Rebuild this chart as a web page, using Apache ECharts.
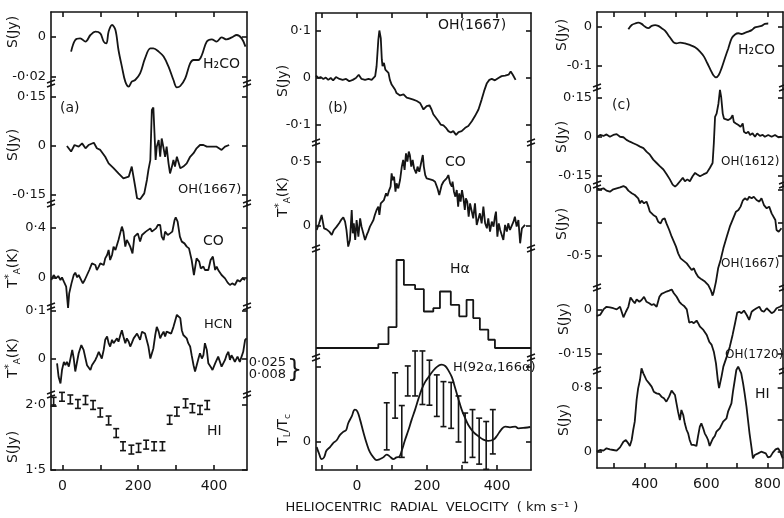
<!DOCTYPE html>
<html>
<head>
<meta charset="utf-8">
<script src="https://cdn.jsdelivr.net/npm/echarts@6/dist/echarts.min.js"></script>
<style>
  html, body { margin: 0; background: #fff; }
  #chart { width: 784px; height: 518px; }
</style>
</head>
<body>
<div id="chart"></div>
<script>
// ---- panel (a) ----
var aH2coV = [23,34,47,61,74,87,100,109,116,122,131,140,148,157,166,175,183,192,205,218,232,240,254,267,280,293,302,311,324,337,346,359,368,381,394,407,420,433,447,460,473,483];
var aH2coS = [-0.0073,-0.0015,-0.0007,-0.0023,0.001,0.0027,0.0018,-0.0023,-0.0032,0.0027,0.006,0.0035,-0.0065,-0.0148,-0.0223,-0.0248,-0.0223,-0.0215,-0.0182,-0.0107,-0.0057,-0.0057,-0.0073,-0.0098,-0.0148,-0.0215,-0.0252,-0.0245,-0.0207,-0.0132,-0.0115,-0.0115,-0.009,-0.0023,-0.0012,-0.0023,-0.0002,-0.0012,-0.0002,0.001,-0.0007,-0.0048];

var aOhV = [12,23,32,43,52,61,69,83,91,100,113,122,135,148,161,175,183,188,192,197,205,216,223,227,232,236,240,243,246,249,254,258,262,267,271,275,280,284,289,293,297,302,306,311,319,328,337,346,354,363,372,381,394,407,420,429,440];
var aOhS = [0,-0.017,0.003,-0.002,0.008,-0.007,0.003,0.01,-0.007,-0.012,-0.033,-0.053,-0.068,-0.084,-0.099,-0.094,-0.063,-0.068,-0.124,-0.16,-0.163,-0.145,-0.104,-0.073,-0.043,0.11,0.118,0.039,-0.043,-0.002,0.018,-0.033,0.023,-0.007,-0.033,-0.002,-0.053,-0.084,-0.063,-0.043,-0.063,-0.033,-0.028,-0.068,-0.063,-0.053,-0.033,-0.022,-0.007,0.003,0.003,-0.002,-0.002,-0.002,-0.012,-0.002,0.003];

var aCoV = [-29,-23,-17,-11,-5,-1,4,10,15,18,24,30,34,39,43,47,54,59,65,71,78,83,87,91,96,100,104,109,113,118,122,126,131,135,140,144,148,153,157,161,166,170,175,179,185,190,194,199,205,210,215,220,225,232,236,241,247,252,258,262,267,271,278,284,290,296,299,304,310,315,322,328,334,341,347,354,361,365,372,376,385,391,397,403,407,411,420,429,436,442,448,455,462,468,475,482];
var aCoT = [-0.016,0.024,-0.003,0.016,-0.016,0.005,-0.029,-0.069,-0.24,-0.123,-0.043,0.024,0.043,0.005,0.024,0.032,-0.043,-0.016,0.024,0.064,0.117,0.131,0.104,0.064,0.091,0.117,0.131,0.104,0.157,0.184,0.224,0.144,0.184,0.251,0.224,0.264,0.304,0.291,0.411,0.371,0.251,0.304,0.277,0.251,0.197,0.331,0.317,0.357,0.291,0.344,0.357,0.371,0.384,0.397,0.371,0.384,0.397,0.424,0.424,0.331,0.304,0.371,0.344,0.357,0.371,0.464,0.485,0.451,0.331,0.291,0.277,0.251,0.237,0.144,0.024,0.157,0.131,0.077,0.091,0.064,0.064,0.144,0.171,0.064,0.091,0.064,0.024,-0.003,-0.037,-0.056,-0.043,-0.056,-0.016,-0.029,-0.003,-0.016];

var aHcnV = [-14,-10,-5,-1,4,8,12,17,21,26,30,34,39,43,50,56,61,65,69,74,78,83,87,91,96,100,104,109,113,118,122,126,131,135,140,144,148,153,157,161,166,170,175,179,183,188,192,197,201,205,210,214,218,223,227,232,236,240,245,249,254,258,262,267,271,275,280,287,293,297,302,306,311,315,319,324,328,332,337,341,346,350,354,359,363,368,372,376,381,385,391,396,403,407,411,416,420,425,429,433,438,442,446,451,455,462,468,477,482,486];
var aHcnT = [-0.009,-0.037,-0.051,-0.023,-0.006,-0.013,-0.006,-0.016,-0.013,0.019,0.001,-0.026,-0.023,0.012,0.029,0.019,0.001,-0.013,-0.016,-0.023,-0.013,-0.016,-0.002,0.005,0.015,0.012,0.001,0.019,0.04,0.047,0.033,0.026,0.04,0.033,0.036,0.043,0.036,0.05,0.06,0.047,0.033,0.043,0.036,0.026,0.033,0.043,0.047,0.053,0.05,0.04,0.057,0.06,0.053,0.053,0.026,0.001,-0.002,0.022,0.05,0.067,0.057,0.043,0.05,0.057,0.047,0.057,0.06,0.053,0.067,0.078,0.092,0.095,0.085,0.06,0.05,0.053,0.043,0.033,0.026,0.008,-0.013,-0.026,-0.03,0.001,0.012,0.001,0.008,0.033,0.019,-0.009,-0.016,-0.023,-0.009,-0.006,0.005,0.001,-0.016,-0.013,-0.002,0.008,0.015,-0.002,0.008,0.001,-0.006,0.005,-0.006,0.015,0.04,0.043];

var aHiV = [-23,-1,21,41,61,81,100,122,142,160,182,201,221,242,264,283,302,325,343,363,382];
var aHiS = [2.025,2.063,2.043,2.008,2.038,2.0,1.942,1.881,1.784,1.683,1.657,1.67,1.695,1.683,1.683,1.886,1.949,2.013,1.975,1.962,2.0];
var aHiErr = 0.034;

// ---- panel (b) ----
var bOhV = [-117,-110,-104,-96,-89,-82,-75,-68,-60,-50,-41,-31,-22,-12,-3,5,13,23,33,42,52,56,61,64,68,71,73,77,81,85,90,94,99,104,109,113,123,133,142,152,161,171,180,190,199,207,213,218,226,233,239,247,254,261,268,275,283,290,299,309,318,328,337,347,356,363,371,378,385,394,404,413,423,433,439,445,453];
var bOhS = [0.005,0,0.002,-0.002,0.001,-0.004,0,-0.005,0.002,-0.002,-0.004,-0.002,-0.007,-0.004,0,0.007,-0.002,-0.004,-0.002,-0.004,0.004,0.025,0.081,0.101,0.085,0.039,0.025,0.032,0.018,0.021,0.011,-0.004,-0.014,-0.018,-0.025,-0.032,-0.037,-0.035,-0.042,-0.044,-0.046,-0.049,-0.053,-0.067,-0.06,-0.058,-0.067,-0.077,-0.085,-0.092,-0.099,-0.101,-0.106,-0.113,-0.116,-0.113,-0.121,-0.115,-0.113,-0.106,-0.102,-0.092,-0.081,-0.067,-0.046,-0.028,-0.011,-0.004,-0.002,-0.005,0,0.004,0.005,0.007,0.014,0.007,-0.004];

var bCoV = [-115,-108,-101,-94,-87,-79,-72,-66,-58,-51,-44,-39,-34,-30,-25,-20,-15,-12,-9,-5,-1,4,9,13,18,23,28,32,37,42,47,51,56,61,64,68,73,77,83,87,92,96,99,102,106,110,113,118,123,128,132,136,140,144,148,151,155,159,163,169,173,178,183,188,191,195,199,204,209,216,223,230,235,242,247,251,256,261,266,271,273,277,281,285,289,292,296,300,304,308,311,315,319,323,328,332,337,342,347,351,356,361,366,371,375,380,385,390,394,397,401,405,409,413,418,423,428,432,437,442,447,451,456,461,466,471,475,480];
var bCoT = [-0.031,0.021,0.086,-0.018,-0.026,-0.044,-0.07,-0.031,-0.005,0.021,0.052,0.068,0.034,-0.031,-0.161,-0.109,0.125,-0.057,0.021,-0.109,0.047,-0.083,0.06,-0.005,-0.057,-0.109,-0.07,-0.044,-0.005,0.021,0.047,0.086,0.125,0.151,0.086,0.177,0.164,0.203,0.255,0.234,0.281,0.307,0.411,0.359,0.385,0.268,0.333,0.294,0.359,0.464,0.516,0.438,0.568,0.503,0.581,0.555,0.464,0.516,0.451,0.411,0.464,0.424,0.49,0.555,0.464,0.398,0.372,0.385,0.365,0.359,0.346,0.294,0.242,0.32,0.346,0.359,0.372,0.398,0.333,0.307,0.346,0.268,0.229,0.281,0.151,0.255,0.19,0.281,0.216,0.125,0.216,0.19,0.073,0.177,0.112,0.06,0.177,0.008,-0.005,0.099,0.021,0.151,0.021,-0.018,0.06,-0.044,0.034,-0.005,0.073,0.112,-0.083,0.021,-0.031,-0.018,-0.109,0.008,-0.044,0.021,-0.031,-0.018,0.034,0.073,-0.005,0.047,-0.135,-0.018,-0.018,0.008];

var bHaEdge = [-117,61,90,113,134,166,191,218,237,268,292,313,332,351,375,394,497];
var bHaLevel = [0,0.045,0.238,1.0,0.717,0.668,0.415,0.453,0.642,0.49,0.36,0.547,0.34,0.208,0.094,0,0];

var bRecV = [-115,-108,-101,-94,-87,-77,-68,-58,-49,-39,-31,-25,-15,-6,1,9,18,28,37,47,56,66,75,85,94,104,113,121,128,137,147,156,166,175,185,194,204,213,223,232,242,252,261,271,280,290,299,309,318,332,347,361,375,390,401,411,423,437,452,461,480,495];
var bRecR = [-0.068,-0.159,-0.227,-0.205,-0.114,-0.068,-0.014,0.023,0.091,0.136,0.159,0.25,0.341,0.432,0.409,0.295,0.136,-0.023,-0.136,-0.205,-0.241,-0.227,-0.205,-0.168,-0.195,-0.227,-0.205,-0.195,-0.114,0.023,0.159,0.295,0.432,0.568,0.705,0.795,0.864,0.923,0.977,1.014,1.032,1.014,0.955,0.864,0.727,0.568,0.432,0.318,0.227,0.136,0.077,0.032,0.014,0.032,0.091,0.159,0.205,0.195,0.205,0.182,0.19,0.2];
var bErrV  = [85,109,128,145,166,187,207,228,247,269,290,309,330,349,369,388];
var bErrLo = [-0.105,0.318,-0.205,0.614,0.614,0.5,0.491,0.341,0.205,0.182,0,-0.273,-0.205,-0.295,-0.364,-0.159];
var bErrHi = [0.523,0.923,0.486,1.014,1.214,1.214,1.091,0.895,0.805,0.795,0.614,0.386,0.432,0.318,0.273,0.432];

// ---- panel (c) ----
var cH2coV = [346,357,368,378,389,400,411,422,433,443,454,465,476,487,494,503,514,530,546,563,579,592,603,614,622,631,640,649,660,671,682,693,704,714,725,736,747,758,769,779,790,801];
var cH2coS = [-0.006,0.005,0.009,0.011,0.008,0.001,-0.003,0.003,0.005,0.003,-0.003,-0.009,-0.021,-0.033,-0.04,-0.042,-0.04,-0.042,-0.046,-0.052,-0.063,-0.076,-0.093,-0.111,-0.123,-0.129,-0.123,-0.106,-0.08,-0.055,-0.029,-0.019,-0.016,-0.018,-0.015,-0.012,-0.008,-0.001,0.001,0.003,0.008,0.009];

var cOh1612V = [245,254,265,275,286,297,308,319,330,340,351,362,373,384,395,405,416,427,438,449,460,471,481,490,498,505,514,523,530,538,546,555,563,570,579,590,601,611,620,624,628,633,639,644,648,653,657,663,671,679,685,689,696,704,711,718,722,729,736,742,750,758,765,774,783,790,801,812,823,834,844];
var cOh1612S = [0.001,0.008,0.004,0.01,0.001,0.008,0.011,0.001,-0.001,-0.011,-0.018,-0.024,-0.03,-0.037,-0.043,-0.056,-0.068,-0.087,-0.1,-0.113,-0.125,-0.144,-0.163,-0.183,-0.191,-0.183,-0.17,-0.157,-0.17,-0.163,-0.17,-0.151,-0.138,-0.144,-0.151,-0.144,-0.138,-0.119,-0.1,-0.024,0.077,0.09,0.128,0.181,0.153,0.09,0.071,0.077,0.065,0.071,0.084,0.058,0.052,0.046,0.039,0.052,0.02,0.014,0.02,0.008,0.014,0.001,0.014,0.004,0.008,0.001,0.008,0.001,0.008,-0.001,0.001];

var cOh1667V = [243,254,265,275,286,297,308,319,330,338,346,357,367,378,384,389,397,405,411,416,422,427,436,443,451,457,464,470,479,487,494,501,508,516,525,536,544,552,559,566,573,584,595,606,614,620,624,631,638,646,655,666,676,687,696,704,711,718,725,733,739,747,754,763,772,779,787,796,804,812,817,824,828,835,844];
var cOh1667S = [0.013,0.005,0.013,-0.005,-0.013,0.005,0.013,0.02,0.03,0.02,-0.005,-0.025,-0.038,-0.063,-0.101,-0.081,-0.101,-0.088,-0.126,-0.164,-0.177,-0.189,-0.202,-0.24,-0.253,-0.222,-0.215,-0.253,-0.303,-0.354,-0.391,-0.429,-0.48,-0.518,-0.535,-0.556,-0.581,-0.606,-0.593,-0.631,-0.657,-0.677,-0.694,-0.72,-0.758,-0.8,-0.77,-0.694,-0.593,-0.53,-0.442,-0.354,-0.278,-0.215,-0.164,-0.152,-0.126,-0.081,-0.063,-0.076,-0.051,-0.063,-0.051,-0.076,-0.088,-0.063,-0.114,-0.139,-0.126,-0.177,-0.164,-0.227,-0.303,-0.316,-0.29];

var cOh1720V = [243,254,265,275,286,297,308,319,330,338,346,353,360,367,373,382,389,397,405,414,422,429,438,447,454,462,470,479,487,494,503,512,519,527,536,544,552,559,568,573,579,590,601,609,617,624,631,637,641,649,655,666,676,685,693,700,707,714,722,731,739,747,754,763,772,779,787,796,804,812,820,828,839,849];
var cOh1720S = [-0.02,-0.017,0.002,0.011,0.009,0.006,0.002,0.011,-0.025,-0.006,0.011,0.043,0.032,0.023,0.036,0.028,0.034,0.045,0.028,0.023,0.017,0.02,0.011,0.045,0.055,0.059,0.063,0.066,0.07,0.057,0.045,0.028,0.02,0.014,0.002,-0.043,-0.04,-0.045,-0.036,-0.045,-0.057,-0.068,-0.085,-0.108,-0.119,-0.142,-0.182,-0.239,-0.266,-0.227,-0.193,-0.159,-0.125,-0.085,-0.045,-0.009,-0.006,-0.011,-0.002,-0.017,-0.034,-0.006,0,0.006,0.011,-0.002,-0.006,0.006,-0.002,-0.011,-0.006,0.006,0.011,0.017];

var cHiV = [243,254,265,275,286,297,308,319,330,338,346,351,357,362,367,373,378,384,389,395,400,405,414,422,429,438,447,454,462,470,479,487,492,498,503,508,514,519,525,530,536,541,546,552,559,568,573,579,584,590,595,601,606,611,617,622,628,633,638,644,649,655,660,666,671,676,682,687,693,698,704,709,714,720,725,731,736,741,747,752,758,763,769,774,779,785,794,801,809,817,826,834,841,849];
var cHiS = [0.004,0.025,0.017,0.046,0.033,0.025,0.017,0.058,0.129,0.15,0.108,0.075,0.15,0.275,0.379,0.65,0.796,0.9,1.046,0.983,0.942,0.9,0.858,0.817,0.754,0.733,0.725,0.692,0.671,0.629,0.692,0.767,0.775,0.713,0.608,0.504,0.4,0.525,0.463,0.358,0.275,0.233,0.15,0.088,0.088,0.075,0.192,0.317,0.358,0.296,0.233,0.192,0.15,0.075,0.129,0.171,0.2,0.254,0.267,0.296,0.317,0.379,0.392,0.421,0.504,0.525,0.608,0.754,0.9,1.025,1.067,1.046,0.983,0.858,0.733,0.567,0.4,0.233,0.067,-0.079,-0.038,-0.058,-0.017,-0.038,0.004,0.025,-0.017,-0.067,-0.058,-0.008,0.033,0.046,0.004,-0.079];

// x tick / label values per column
var aXTicks = [0,100,200,300,400],  aXLabels = [0,200,400];
var bXTicks = [-100,0,100,200,300,400], bXLabels = [0,200,400];
var cXTicks = [300,400,500,600,700,800], cXLabels = [400,600,800];

var ink = '#151515';
var FONT = 'DejaVu Sans';
var LW = 1.8;

var cols = {
  a: { left: 51,  right: 247, min: -30,  max: 487, ticks: aXTicks, labels: aXLabels },
  b: { left: 316, right: 531, min: -117, max: 497, ticks: bXTicks, labels: bXLabels },
  c: { left: 597, right: 783, min: 244,  max: 849, ticks: cXTicks, labels: cXLabels }
};

// ref = [value1, pixelY1, value2, pixelY2]  -> gives the y scale of each strip
var panels = [
  { col: 'a', top: 12,  bottom: 84,  ref: [0, 37, -0.02, 77],  yt: [0, -0.02], yl: [0, -0.02], ytxt: ['0', '-0·02'], first: true },
  { col: 'a', top: 84,  bottom: 204, ref: [0.15, 97, 0, 146],  yt: [0.15, 0, -0.15], yl: [0.15, 0, -0.15], ytxt: ['0·15', '0', '-0·15'] },
  { col: 'a', top: 204, bottom: 307, ref: [0.4, 228, 0, 278],  yt: [0.4, 0], yl: [0.4, 0], ytxt: ['0·4', '0'] },
  { col: 'a', top: 307, bottom: 395, ref: [0.1, 311, 0, 359],  yt: [0.1, 0], yl: [0.1, 0], ytxt: ['0·1', '0'] },
  { col: 'a', top: 395, bottom: 470, ref: [2.0, 405, 1.5, 470], yt: [2.0, 1.5], yl: [2.0, 1.5], ytxt: ['2·0', '1·5'], last: true },

  { col: 'b', top: 13,  bottom: 143, ref: [0.1, 31, 0, 78],    yt: [0.1, 0, -0.1], yl: [0.1, 0, -0.1], ytxt: ['0·1', '0', '-0·1'], first: true },
  { col: 'b', top: 143, bottom: 249, ref: [0.5, 162, 0, 226],  yt: [0.5, 0], yl: [0.5, 0], ytxt: ['0·5', '0'] },
  { col: 'b', top: 249, bottom: 358, ref: [1, 260, 0, 348],    yt: [], yl: [], ytxt: [] },
  { col: 'b', top: 358, bottom: 470, ref: [1, 367, 0, 442],    yt: [1, 0], yl: [0], ytxt: ['0'], last: true },

  { col: 'c', top: 12,  bottom: 88,  ref: [0, 27, -0.1, 66],   yt: [0, -0.1], yl: [0, -0.1], ytxt: ['0', '-0·1'], first: true },
  { col: 'c', top: 88,  bottom: 185, ref: [0.15, 98, 0, 137],  yt: [0.15, 0, -0.15], yl: [0.15, 0, -0.15], ytxt: ['0·15', '0', '-0·15'] },
  { col: 'c', top: 185, bottom: 288, ref: [0, 190, -0.5, 256], yt: [0, -0.25, -0.5], yl: [0, -0.5], ytxt: ['0', '-0·5'] },
  { col: 'c', top: 288, bottom: 371, ref: [0, 310, -0.15, 354], yt: [0, -0.15], yl: [0, -0.15], ytxt: ['0', '-0·15'] },
  { col: 'c', top: 371, bottom: 468, ref: [0.8, 388, 0, 452],  yt: [0.8, 0.4, 0], yl: [0.8, 0], ytxt: ['0·8', '0'], last: true }
];

var grids = [], xAxes = [], yAxes = [];
panels.forEach(function (p, i) {
  var c = cols[p.col];
  var k = (p.ref[3] - p.ref[1]) / (p.ref[0] - p.ref[2]); // px per unit
  var ymax = p.ref[0] + (p.ref[1] - p.top) / k;
  var ymin = p.ref[0] - (p.bottom - p.ref[1]) / k;
  grids.push({ left: c.left, top: p.top, width: c.right - c.left, height: p.bottom - p.top });

  var showX = !!(p.first || p.last);
  xAxes.push({
    gridIndex: i, type: 'value', min: c.min, max: c.max, show: showX,
    position: p.first ? 'top' : 'bottom',
    axisLine: { show: true, onZero: false, lineStyle: { color: ink, width: 1.6 } },
    axisTick: { show: true, inside: true, length: 5, customValues: c.ticks, lineStyle: { color: ink, width: 1.6 } },
    axisLabel: { show: !!p.last, customValues: c.labels, margin: 9, color: ink, fontSize: 14, fontFamily: FONT },
    splitLine: { show: false }
  });

  var labelFmt = function (v) {
    for (var j = 0; j < p.yl.length; j++) if (Math.abs(p.yl[j] - v) < 1e-9) return p.ytxt[j];
    return '';
  };
  var tickStyle = { show: p.yt.length > 0, inside: true, length: 5, customValues: p.yt, lineStyle: { color: ink, width: 1.6 } };
  yAxes.push({
    gridIndex: i, type: 'value', min: ymin, max: ymax, position: 'left',
    axisLine: { show: true, onZero: false, lineStyle: { color: ink, width: 1.6 } },
    axisTick: tickStyle,
    axisLabel: { show: p.yl.length > 0, customValues: p.yl, formatter: labelFmt, margin: 5, color: ink, fontSize: 13, fontFamily: FONT },
    splitLine: { show: false }
  });
  yAxes.push({
    gridIndex: i, type: 'value', min: ymin, max: ymax, position: 'right',
    axisLine: { show: true, onZero: false, lineStyle: { color: ink, width: 1.6 } },
    axisTick: tickStyle,
    axisLabel: { show: false },
    splitLine: { show: false }
  });
});

function zip(xs, ys) {
  var d = [];
  for (var i = 0; i < Math.min(xs.length, ys.length); i++) d.push([xs[i], ys[i]]);
  return d;
}
function lineSeries(pi, xs, ys, extra) {
  var s = {
    type: 'line', xAxisIndex: pi, yAxisIndex: pi * 2, data: zip(xs, ys),
    symbol: 'none', showSymbol: false, clip: false, silent: true, animation: false,
    lineStyle: { color: ink, width: LW }
  };
  for (var key in extra) s[key] = extra[key];
  return s;
}
function errSeries(pi, xs, lo, hi, cap) {
  var d = [];
  for (var i = 0; i < xs.length; i++) d.push([xs[i], lo[i], hi[i]]);
  return {
    type: 'custom', xAxisIndex: pi, yAxisIndex: pi * 2, data: d, clip: false, silent: true, animation: false,
    encode: { x: 0, y: [1, 2] },
    renderItem: function (params, api) {
      var a = api.coord([api.value(0), api.value(1)]);
      var b = api.coord([api.value(0), api.value(2)]);
      var st = { stroke: ink, lineWidth: 1.6 };
      return { type: 'group', children: [
        { type: 'line', shape: { x1: a[0], y1: a[1], x2: b[0], y2: b[1] }, style: st },
        { type: 'line', shape: { x1: a[0] - cap, y1: a[1], x2: a[0] + cap, y2: a[1] }, style: st },
        { type: 'line', shape: { x1: b[0] - cap, y1: b[1], x2: b[0] + cap, y2: b[1] }, style: st }
      ] };
    }
  };
}

var aHiLo = aHiS.map(function (v) { return v - aHiErr; });
var aHiHi = aHiS.map(function (v) { return v + aHiErr; });

var series = [
  lineSeries(0, aH2coV, aH2coS, { smooth: 0.35 }),
  lineSeries(1, aOhV, aOhS, {}),
  lineSeries(2, aCoV, aCoT, {}),
  lineSeries(3, aHcnV, aHcnT, {}),
  errSeries(4, aHiV, aHiLo, aHiHi, 3),
  lineSeries(5, bOhV, bOhS, {}),
  lineSeries(6, bCoV, bCoT, {}),
  lineSeries(7, bHaEdge, bHaLevel, { step: 'end' }),
  lineSeries(8, bRecV, bRecR, { smooth: 0.4 }),
  errSeries(8, bErrV, bErrLo, bErrHi, 3),
  lineSeries(9, cH2coV, cH2coS, { smooth: 0.35 }),
  lineSeries(10, cOh1612V, cOh1612S, {}),
  lineSeries(11, cOh1667V, cOh1667S, {}),
  lineSeries(12, cOh1720V, cOh1720S, {}),
  lineSeries(13, cHiV, cHiS, {})
];

// ---- text ----
var rich = {
  n: { fontSize: 14, fontFamily: FONT, color: ink, lineHeight: 18 },
  sub: { fontSize: 9, fontFamily: FONT, color: ink, lineHeight: 18, verticalAlign: 'bottom', padding: [6, 0, 0, 0] },
  sup: { fontSize: 10, fontFamily: FONT, color: ink, lineHeight: 18, verticalAlign: 'top', padding: [0, 0, 5, 0] }
};
function vText(x, y, text) {
  return { type: 'text', x: x, y: y, rotation: Math.PI / 2, silent: true,
    style: { text: text, rich: rich, font: '14px ' + FONT, fill: ink,
             textAlign: 'center', textVerticalAlign: 'middle', align: 'center', verticalAlign: 'middle' } };
}
function hText(x, y, text, size) {
  return { type: 'text', x: x, y: y, silent: true,
    style: { text: text, font: (size || 13) + 'px ' + FONT, fill: ink,
             textAlign: 'left', textVerticalAlign: 'middle', align: 'left', verticalAlign: 'middle' } };
}
var SJY = '{n|S(Jy)}';
var TAK = '{n|T}{sup|*}{sub|A}{n|(K)}';
var graphics = [
  vText(13, 32, SJY), vText(13, 145, SJY), vText(13, 268, TAK), vText(13, 358, TAK), vText(13, 447, SJY),
  vText(283, 81, SJY), vText(283, 197, TAK), vText(283, 430, '{n|T}{sub|L}{n|/T}{sub|c}'),
  vText(562, 35, SJY), vText(562, 137, SJY), vText(562, 224, SJY), vText(564, 319, SJY), vText(564, 420, SJY),

  hText(203, 64, 'H₂CO', 14), hText(60, 108, '(a)', 14), hText(178, 190, 'OH(1667)'), hText(203, 241, 'CO', 14),
  hText(204, 325, 'HCN'), hText(207, 431, 'HI', 14),
  hText(438, 25, 'OH(1667)', 14), hText(328, 108, '(b)', 14), hText(445, 162, 'CO', 14), hText(450, 269, 'Hα', 14),
  hText(453, 368, 'H(92α,166α)'),
  hText(738, 50, 'H₂CO', 14), hText(612, 105, '(c)', 14), hText(721, 162, 'OH(1612)', 12), hText(721, 264, 'OH(1667)', 12),
  hText(725, 355, 'OH(1720)', 12), hText(755, 394, 'HI', 14),

  { type: 'text', x: 286, y: 369, silent: true,
    style: { text: '0·025\n0·008', font: '13px ' + FONT, fill: ink, lineHeight: 12,
             textAlign: 'right', textVerticalAlign: 'middle', align: 'right', verticalAlign: 'middle' } },
  hText(287, 371, '}', 24),
  { type: 'text', x: 432, y: 508, silent: true,
    style: { text: 'HELIOCENTRIC  RADIAL  VELOCITY  ( km s⁻¹ )', font: '13px ' + FONT, fill: ink,
             textAlign: 'center', textVerticalAlign: 'middle', align: 'center', verticalAlign: 'middle' } }
];

// axis break marks where the strips meet
panels.forEach(function (p) {
  if (p.first) return;
  var c = cols[p.col];
  [c.left, c.right].forEach(function (x) {
    var y = p.top;
    graphics.push({ type: 'polyline', silent: true, shape: { points: [[x - 4, y - 1], [x + 4, y - 4]] }, style: { stroke: ink, lineWidth: 1.5, fill: null } });
    graphics.push({ type: 'polyline', silent: true, shape: { points: [[x - 4, y + 3], [x + 4, y]] }, style: { stroke: ink, lineWidth: 1.5, fill: null } });
  });
});

var chart = echarts.init(document.getElementById('chart'));
chart.setOption({
  backgroundColor: '#fff',
  animation: false,
  grid: grids,
  xAxis: xAxes,
  yAxis: yAxes,
  series: series,
  graphic: graphics
});
</script>
</body>
</html>
